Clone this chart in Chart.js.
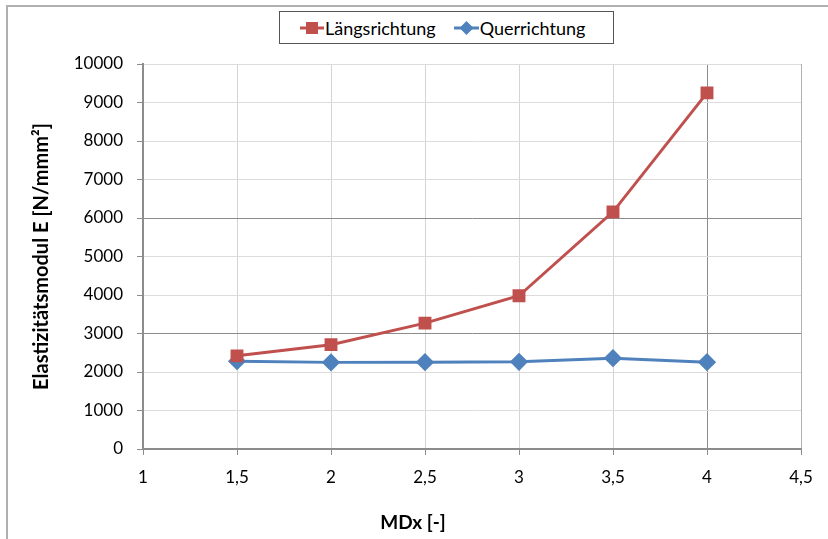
<!DOCTYPE html>
<html>
<head>
<meta charset="utf-8">
<script src="https://cdn.jsdelivr.net/npm/chart.js@4"></script>
<style>
    body { margin: 0; background: #fff; }
    #wrap { position: relative; width: 828px; height: 539px; overflow: hidden; }
    #frame { position: absolute; left: 6px; top: 5px; width: 840px; height: 560px; border: 2px solid #b0b0b0; box-sizing: border-box; }
    #chartE { position: absolute; left: 0; top: 0; }
    #legend { position: absolute; left: 279px; top: 11px; width: 335px; height: 33px; box-sizing: border-box;
        border: 1.5px solid #555; background: #fff; font: 18px Lato, sans-serif; color: #000;
        display: flex; align-items: center; padding-left: 20px; }
    #legend span { display: inline-flex; align-items: center; }
    #legend svg { margin-right: 1px; }
    #xTitle { position: absolute; left: 313px; width: 200px; top: 510px; text-align: center;
        font: bold 19px Lato, sans-serif; color: #000; }
</style>
</head>
<body>
<div id="wrap">
    <div id="frame"></div>
    <canvas id="chartE" width="828" height="539"></canvas>
    <div id="legend">
        <span><svg width="24" height="14"><line x1="0" y1="7" x2="24" y2="7" stroke="#C0504D" stroke-width="3"/><rect x="6" y="1" width="12" height="12" fill="#C0504D"/></svg>Längsrichtung</span>
        <span style="margin-left:18px"><svg width="25" height="14"><line x1="0" y1="7" x2="25" y2="7" stroke="#4F81BD" stroke-width="3"/><polygon points="12.5,0 19.5,7 12.5,14 5.5,7" fill="#4F81BD"/></svg>Querrichtung</span>
    </div>
    <div id="xTitle">MDx [-]</div>
</div>
<script>
const mdx = [1.5, 2, 2.5, 3, 3.5, 4];
const laengs = [2420, 2710, 3270, 3980, 6160, 9250];
const quer = [2280, 2250, 2255, 2265, 2360, 2255];

const ctx = document.getElementById('chartE').getContext('2d');

const chartE = new Chart(ctx, {
    type: 'line',
    data: {
        datasets: [
            {
                label: 'Längsrichtung',
                data: mdx.map((x, i) => ({ x: x, y: laengs[i] })),
                borderColor: '#C0504D',
                backgroundColor: '#C0504D',
                borderWidth: 3,
                pointStyle: 'rect',
                pointRadius: 7,
                pointHoverRadius: 7,
                fill: false
            },
            {
                label: 'Querrichtung',
                data: mdx.map((x, i) => ({ x: x, y: quer[i] })),
                borderColor: '#4F81BD',
                backgroundColor: '#4F81BD',
                borderWidth: 3,
                pointStyle: 'rectRot',
                pointRadius: 7,
                pointHoverRadius: 7,
                fill: false
            }
        ]
    },
    options: {
        responsive: false,
        animation: false,
        layout: { padding: { left: 22, top: 64, right: 27, bottom: 0 } },
        plugins: { legend: { display: false }, tooltip: { enabled: false } },
        scales: {
            x: {
                type: 'linear',
                min: 1,
                max: 4.5,
                afterFit: function(scale) { scale.height = 90; },
                ticks: {
                    stepSize: 0.5,
                    color: '#000',
                    padding: 12,
                    font: { family: 'Lato', size: 17 },
                    callback: v => String(v).replace('.', ',')
                },
                grid: {
                    color: c => c.tick && c.tick.value === 4 ? '#8c8c8c' : (c.tick && c.tick.value >= 4.5 ? '#b0b0b0' : '#d4d4d4'),
                    tickColor: '#8c8c8c',
                    tickLength: 6
                },
                border: { color: '#8c8c8c', width: 2 }
            },
            y: {
                min: 0,
                max: 10000,
                afterFit: function(scale) { scale.width = 121; },
                ticks: {
                    stepSize: 1000,
                    color: '#000',
                    padding: 14,
                    font: { family: 'Lato', size: 17 },
                    callback: v => String(v)
                },
                grid: {
                    color: c => c.tick && (c.tick.value === 3000 || c.tick.value === 6000) ? '#8c8c8c' : '#dcdcdc',
                    tickColor: '#8c8c8c',
                    tickLength: 6
                },
                border: { color: '#8c8c8c', width: 2 },
                title: {
                    display: true,
                    text: 'Elastizitätsmodul E [N/mmm²]',
                    color: '#000',
                    font: { family: 'Lato', size: 20, weight: 'bold' },
                    padding: { top: 8, bottom: 0 }
                }
            }
        }
    }
});
</script>
</body>
</html>
